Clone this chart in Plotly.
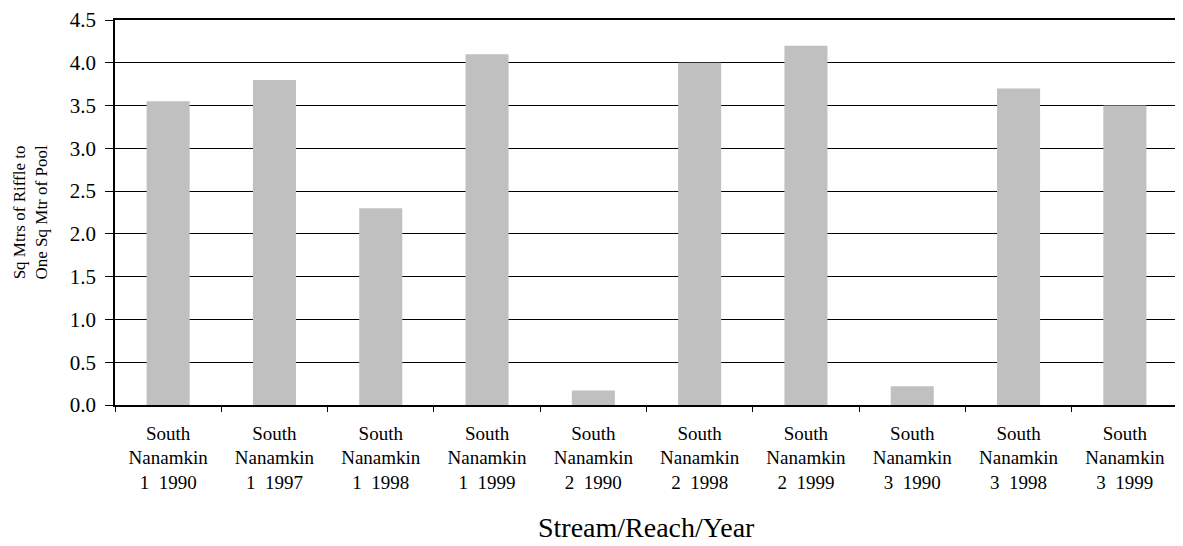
import plotly.graph_objects as go

stream = ["South Nanamkin"] * 10
reach = ["1", "1", "1", "1", "2", "2", "2", "3", "3", "3"]
year = ["1990", "1997", "1998", "1999", "1990", "1998", "1999", "1990", "1998", "1999"]
ratio = [3.55, 3.80, 2.30, 4.10, 0.17, 4.00, 4.20, 0.22, 3.70, 3.50]

y_ticks = [0.0, 0.5, 1.0, 1.5, 2.0, 2.5, 3.0, 3.5, 4.0, 4.5]

x_title = "Stream/Reach/Year"
y_title = "Sq Mtrs of Riffle to<br>One Sq Mtr of Pool"

labels = [
    s.replace(" ", "<br>") + "<br>" + r + "\u00a0 " + y
    for s, r, y in zip(stream, reach, year)
]

FONT = "Liberation Serif"

fig = go.Figure(
    go.Bar(
        x=labels,
        y=ratio,
        marker=dict(color="#C0C0C0", line=dict(width=0)),
        width=0.405,
    )
)

# The page body has a default 8px margin, so the figure is sized to fit the window.
fig.update_layout(
    width=1175,
    height=538,
    margin=dict(l=107, r=5, t=12, b=141),
    paper_bgcolor="white",
    plot_bgcolor="white",
    font=dict(family=FONT, color="black"),
    showlegend=False,
    annotations=[
        dict(
            text=x_title,
            xref="paper", yref="paper", x=0.5, y=0,
            xanchor="center", yanchor="bottom", yshift=-140,
            showarrow=False,
            font=dict(size=28, family=FONT, color="black"),
        ),
        dict(
            text=y_title,
            xref="paper", yref="paper", x=0, y=0.5,
            xanchor="center", yanchor="middle", xshift=-85,
            textangle=-90,
            showarrow=False,
            font=dict(size=17, family=FONT, color="black"),
        ),
    ],
)

fig.update_xaxes(
    type="category",
    tickson="boundaries",
    ticks="outside",
    ticklen=5,
    tickcolor="black",
    tickwidth=1,
    showline=True,
    linecolor="black",
    linewidth=1.5,
    mirror=True,
    showgrid=False,
    tickfont=dict(size=19, family=FONT, color="black"),
    ticklabelstandoff=10,
    automargin=False,
)

fig.update_yaxes(
    range=[0, 4.5001],
    tickvals=y_ticks,
    tickformat=".1f",
    ticks="outside",
    ticklen=8,
    tickcolor="black",
    tickwidth=1,
    showline=True,
    linecolor="black",
    linewidth=1.5,
    mirror=True,
    showgrid=True,
    gridcolor="black",
    gridwidth=1,
    zeroline=False,
    tickfont=dict(size=21, family=FONT, color="black"),
    ticklabelstandoff=5,
    ticklabeloverflow="allow",
    automargin=False,
)

fig.write_html("out.html")
